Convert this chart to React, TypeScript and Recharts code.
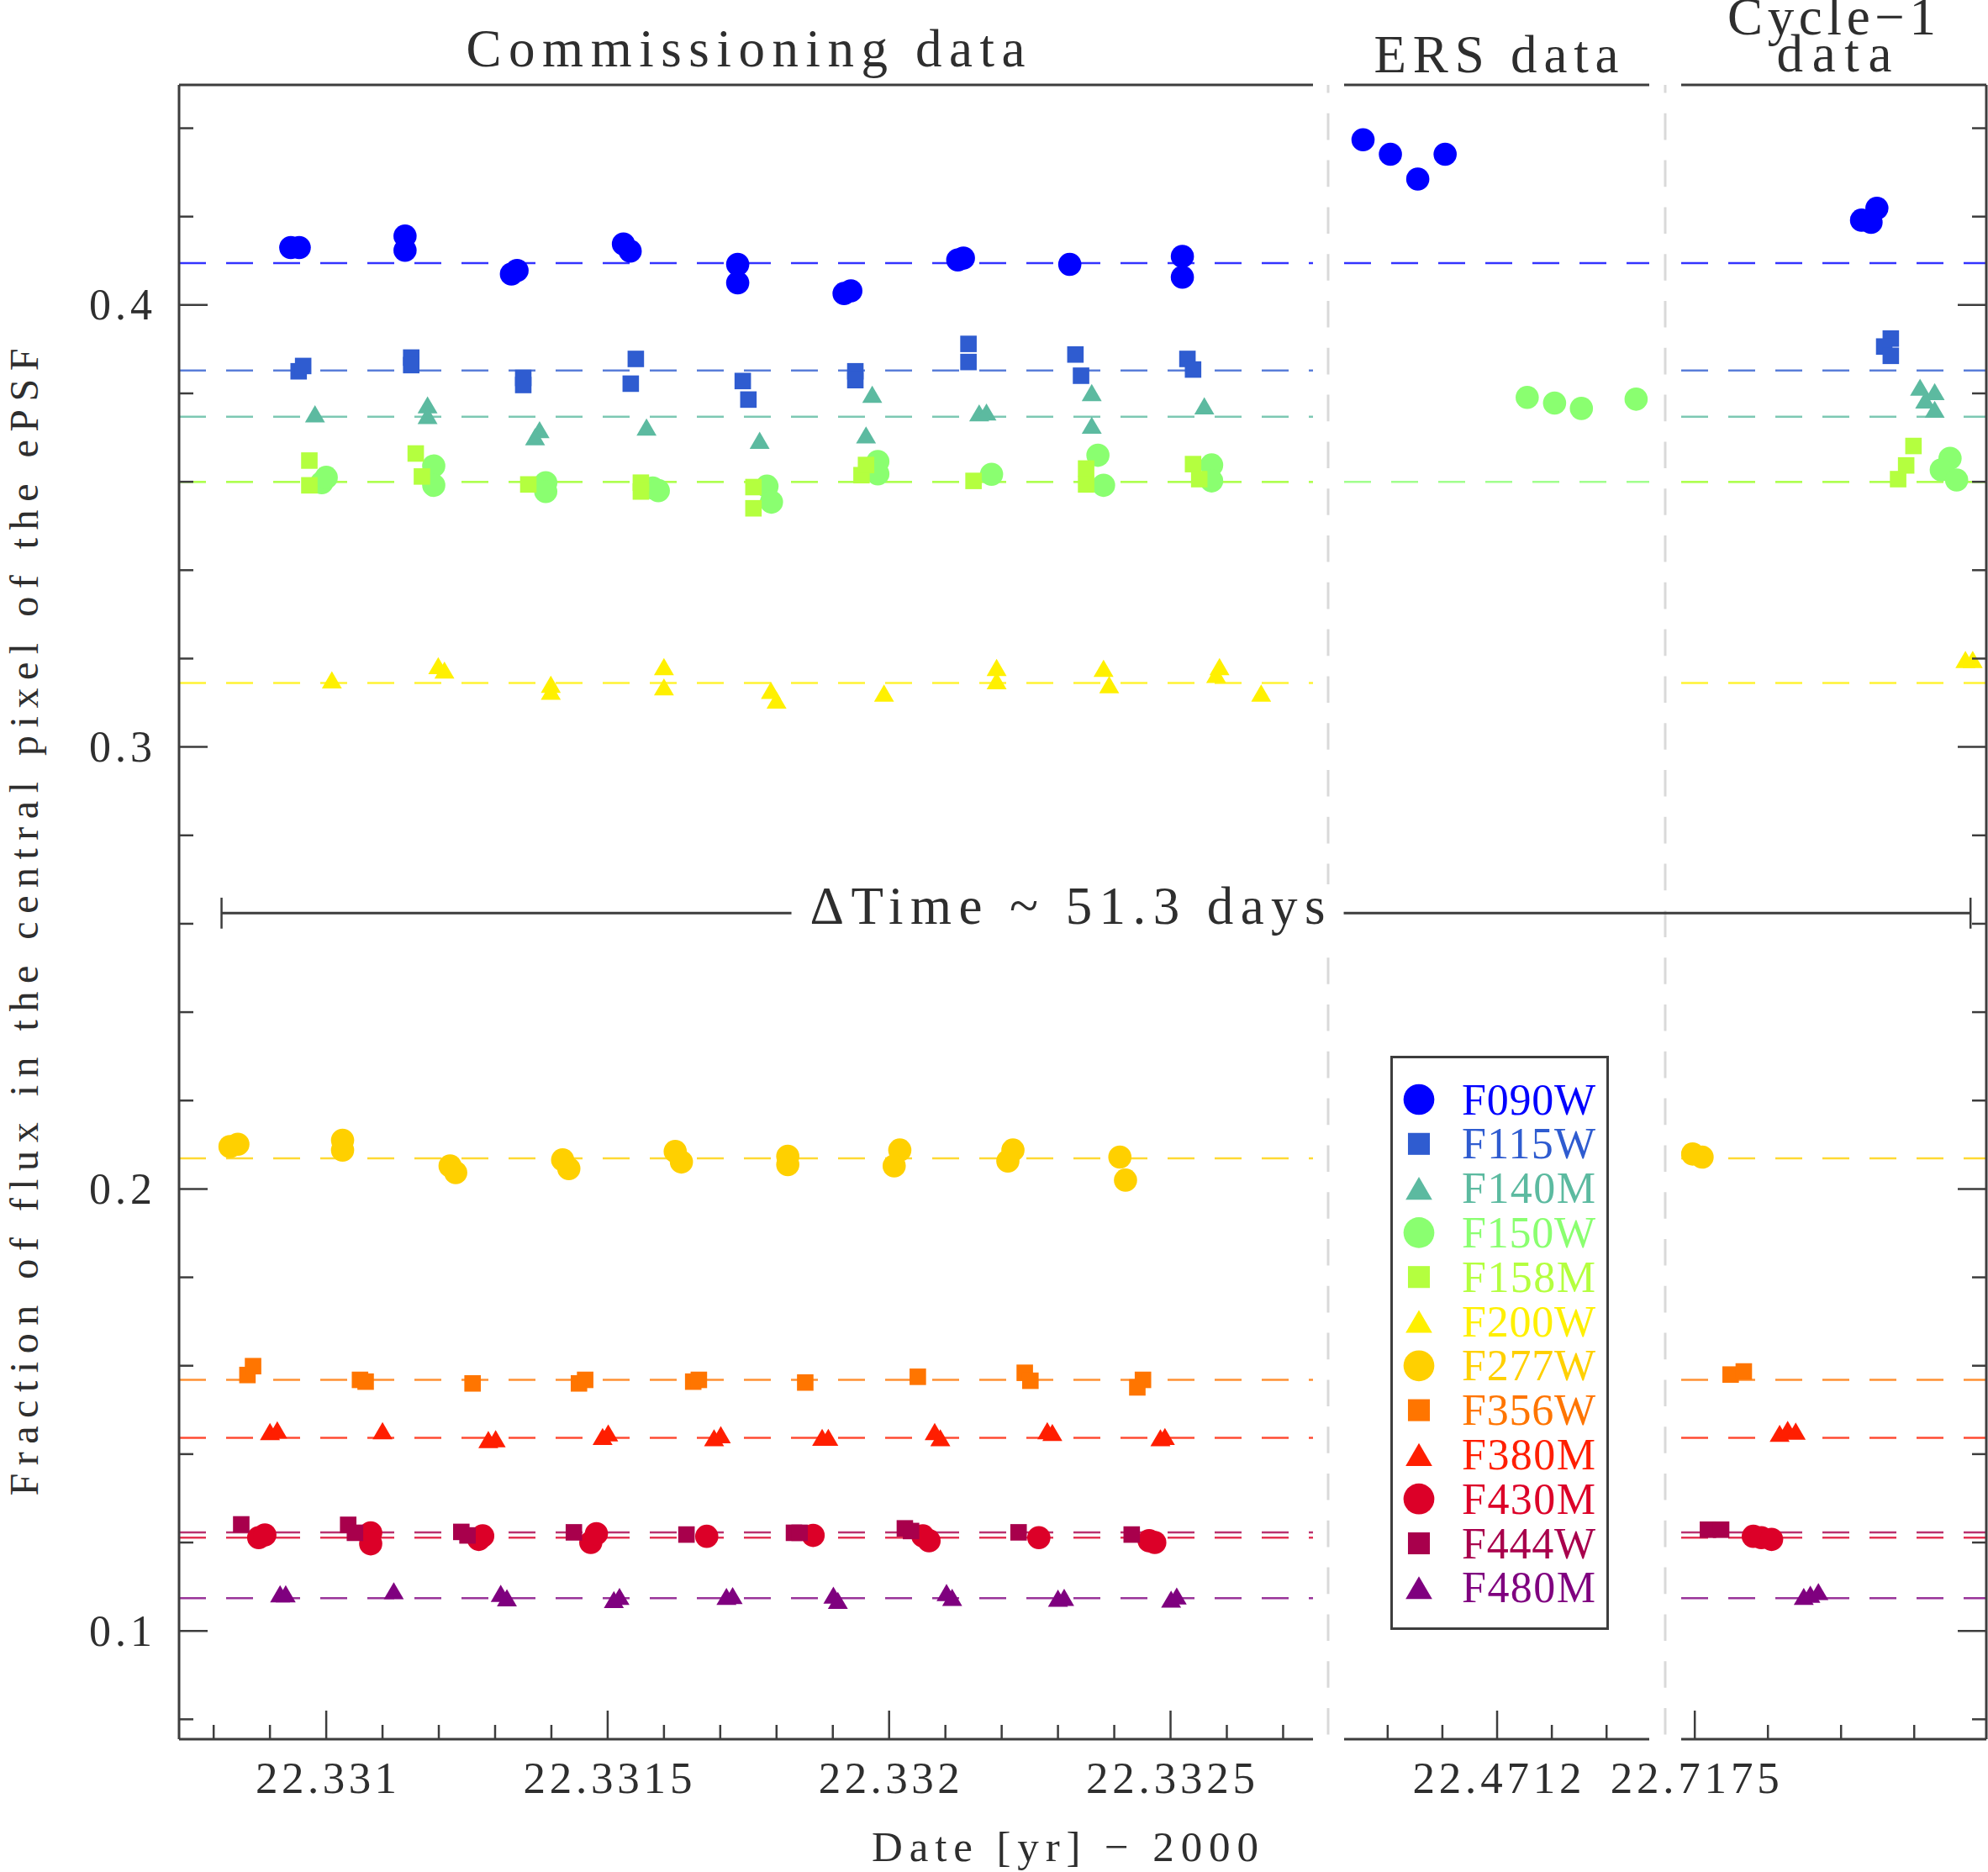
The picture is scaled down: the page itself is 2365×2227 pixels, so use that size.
import React from "react";
import { ScatterChart, Scatter, XAxis, YAxis, ReferenceLine, Legend } from "recharts";

type Pt = [number, number];

const W = 2365;
const H = 2227;
const PLOT_TOP = 101;
const PLOT_BOTTOM = 2069;
const FONT = "'Liberation Serif', 'DejaVu Serif', serif";
const INK = "#2e2e2e";
const AXIS = "#3d3d3d";

// filters, legend order
const FILTER_NAMES = ["F090W", "F115W", "F140M", "F150W", "F158M", "F200W", "F277W", "F356W", "F380M", "F430M", "F444W", "F480M"];
const FILTER_COLORS = ["#0000ff", "#2f5cd0", "#5cbaa0", "#8aff70", "#b4ff3f", "#fff000", "#ffd000", "#ff7500", "#ff1e00", "#dc0028", "#a8004c", "#7f007f"];
const FILTER_SHAPES = ["circle", "square", "triangle", "circle", "square", "triangle", "circle", "square", "triangle", "circle", "square", "triangle"];
// mean level of each filter (dashed lines)
const FILTER_LEVELS = [0.4095, 0.3852, 0.3747, 0.36, 0.36, 0.3145, 0.2069, 0.1568, 0.1437, 0.1211, 0.1223, 0.1074];

// [date (yr - 2000), fraction of flux in central pixel]
const F090W: Pt[] = [
  [22.330937, 0.413], [22.330952, 0.413], [22.33114, 0.4156], [22.33114, 0.4124],
  [22.331329, 0.407], [22.331339, 0.4078], [22.331528, 0.4138], [22.33154, 0.4122],
  [22.331731, 0.4092], [22.331731, 0.405], [22.33192, 0.4026], [22.331932, 0.4032],
  [22.332122, 0.4102], [22.332132, 0.4106], [22.332321, 0.4092], [22.332521, 0.411], [22.332521, 0.4063],
  [22.470955, 0.4374], [22.471005, 0.4341], [22.471055, 0.4285], [22.471105, 0.4341],
  [22.717728, 0.4192], [22.717741, 0.4187], [22.717749, 0.4219],
];
const F115W: Pt[] = [
  [22.330951, 0.385], [22.330959, 0.3862], [22.331151, 0.3881], [22.331151, 0.3864],
  [22.33135, 0.3835], [22.33135, 0.3819], [22.33155, 0.3878], [22.331541, 0.3822],
  [22.33174, 0.3828], [22.33175, 0.3786], [22.33194, 0.385], [22.33194, 0.383],
  [22.332141, 0.3912], [22.332141, 0.3871], [22.332331, 0.3888], [22.332341, 0.384],
  [22.33253, 0.3878], [22.33254, 0.3854],
  [22.717768, 0.3924], [22.717759, 0.3906], [22.717768, 0.3885],
];
const F140M: Pt[] = [
  [22.33098, 0.3754], [22.33118, 0.3774], [22.33118, 0.375], [22.331379, 0.3718], [22.331371, 0.3702],
  [22.331569, 0.3724], [22.33177, 0.3694], [22.33197, 0.3798], [22.331959, 0.3706],
  [22.33216, 0.3756], [22.332173, 0.3758], [22.33236, 0.3802], [22.33236, 0.3728], [22.33256, 0.3772],
  [22.717808, 0.3814], [22.717828, 0.3804], [22.717815, 0.3785], [22.717828, 0.3764],
];
const F150W: Pt[] = [
  [22.330992, 0.3598], [22.331, 0.361], [22.331191, 0.3636], [22.331191, 0.3592],
  [22.33139, 0.3598], [22.33139, 0.3578], [22.33158, 0.3586], [22.33159, 0.358],
  [22.331783, 0.359], [22.331791, 0.3554], [22.33198, 0.3646], [22.33198, 0.3618],
  [22.332182, 0.3617], [22.332371, 0.366], [22.332381, 0.3592], [22.332573, 0.3638], [22.332573, 0.3602],
  [22.471255, 0.3791], [22.471305, 0.3778], [22.471354, 0.3766], [22.471454, 0.3787],
  [22.717849, 0.3653], [22.717837, 0.3627], [22.717858, 0.3604],
];
const F158M: Pt[] = [
  [22.33097, 0.3648], [22.33097, 0.3592], [22.331159, 0.3664], [22.33117, 0.3612],
  [22.331359, 0.3594], [22.331559, 0.3598], [22.331559, 0.3578], [22.331759, 0.3588], [22.331759, 0.354],
  [22.331951, 0.3615], [22.331959, 0.3638], [22.33215, 0.3602], [22.33235, 0.363], [22.33235, 0.3594],
  [22.33254, 0.364], [22.332551, 0.3606],
  [22.717799, 0.3681], [22.717789, 0.3637], [22.717778, 0.3606],
];
const F200W: Pt[] = [
  [22.33101, 0.3152], [22.331199, 0.3184], [22.33121, 0.3174], [22.331399, 0.3142], [22.331399, 0.3126],
  [22.3316, 0.3182], [22.3316, 0.3136], [22.33179, 0.3128], [22.3318, 0.3106], [22.331991, 0.3122],
  [22.332191, 0.318], [22.332191, 0.315], [22.332381, 0.3178], [22.332391, 0.3141],
  [22.332587, 0.3182], [22.332581, 0.3164], [22.332661, 0.3122],
  [22.71787, 0.3198], [22.71788, 0.3198],
];
const F277W: Pt[] = [
  [22.330829, 0.2096], [22.330843, 0.2101], [22.331029, 0.211], [22.331029, 0.2088],
  [22.33122, 0.2052], [22.33123, 0.2037], [22.33142, 0.2066], [22.331431, 0.2046],
  [22.33162, 0.2085], [22.331631, 0.2061], [22.33182, 0.2074], [22.33182, 0.2055],
  [22.332019, 0.2088], [22.332009, 0.2052], [22.33222, 0.2088], [22.332211, 0.2063],
  [22.33241, 0.2072], [22.33242, 0.202],
  [22.717497, 0.2079], [22.71751, 0.2072],
];
const F356W: Pt[] = [
  [22.33086, 0.1579], [22.33087, 0.1599], [22.33106, 0.1568], [22.33107, 0.1564], [22.33126, 0.156],
  [22.331449, 0.156], [22.33146, 0.1568], [22.331652, 0.1564], [22.331662, 0.1568], [22.331851, 0.1562],
  [22.332051, 0.1575], [22.332241, 0.1584], [22.332251, 0.1566], [22.332451, 0.1568], [22.332441, 0.1551],
  [22.717549, 0.158], [22.717567, 0.1587],
];
const F380M: Pt[] = [
  [22.3309, 0.1451], [22.330913, 0.1455], [22.3311, 0.1453], [22.331288, 0.1433], [22.331301, 0.1435],
  [22.331491, 0.144], [22.331501, 0.1448], [22.331689, 0.1437], [22.331701, 0.1444],
  [22.331881, 0.1438], [22.331892, 0.1438], [22.332081, 0.1451], [22.332091, 0.1437],
  [22.332281, 0.1453], [22.33229, 0.1449], [22.332482, 0.1437], [22.33249, 0.144],
  [22.717616, 0.1447], [22.717627, 0.1456], [22.717638, 0.1452],
];
const F430M: Pt[] = [
  [22.33088, 0.1211], [22.330891, 0.1217], [22.331079, 0.1222], [22.331079, 0.1197],
  [22.331271, 0.1207], [22.331278, 0.1215], [22.33147, 0.12], [22.33148, 0.122],
  [22.331676, 0.1214], [22.331865, 0.1216], [22.33206, 0.1215], [22.332071, 0.1204],
  [22.332266, 0.1211], [22.332462, 0.1204], [22.332472, 0.12],
  [22.71758, 0.1214], [22.717591, 0.1211], [22.717605, 0.1207],
];
const F444W: Pt[] = [
  [22.330849, 0.1241], [22.331039, 0.124], [22.331051, 0.1222], [22.33124, 0.1224], [22.331251, 0.1216],
  [22.33144, 0.1223], [22.33164, 0.1218], [22.331831, 0.1222], [22.331841, 0.1222],
  [22.332028, 0.1232], [22.332039, 0.1226], [22.33223, 0.1223], [22.332431, 0.1218],
  [22.717518, 0.1229], [22.717536, 0.1229],
];
const F480M: Pt[] = [
  [22.330918, 0.1084], [22.330928, 0.1084], [22.33112, 0.1091], [22.33131, 0.1085], [22.331321, 0.1075],
  [22.331511, 0.1071], [22.331521, 0.1078], [22.331711, 0.1078], [22.331722, 0.108],
  [22.331901, 0.1081], [22.331909, 0.1069], [22.332102, 0.1087], [22.332112, 0.1076],
  [22.3323, 0.1074], [22.332311, 0.1076], [22.332501, 0.1072], [22.332511, 0.1079],
  [22.717649, 0.1078], [22.717658, 0.1083], [22.717669, 0.1089],
];
const FILTER_POINTS = [F090W, F115W, F140M, F150W, F158M, F200W, F277W, F356W, F380M, F430M, F444W, F480M];

// axis ticks
const COM_TICKS = [22.3308, 22.3309, 22.331, 22.3311, 22.3312, 22.3313, 22.3314, 22.3315, 22.3316, 22.3317,
  22.3318, 22.3319, 22.332, 22.3321, 22.3322, 22.3323, 22.3324, 22.3325, 22.3326, 22.3327];
const ERS_TICKS = [22.471, 22.4711, 22.4712, 22.4713, 22.4714];
const CYC_TICKS = [22.7175, 22.7176, 22.7177, 22.7178];
const X_LABELS: [number, string][] = [
  [22.331, "22.331"], [22.3315, "22.3315"], [22.332, "22.332"], [22.3325, "22.3325"],
  [22.4712, "22.4712"], [22.7175, "22.7175"],
];
const Y_TICKS = [0.08, 0.1, 0.12, 0.14, 0.16, 0.18, 0.2, 0.22, 0.24, 0.26, 0.28, 0.3, 0.32, 0.34, 0.36, 0.38, 0.4, 0.42, 0.44];
const Y_LABELS: [number, string][] = [[0.1, "0.1"], [0.2, "0.2"], [0.3, "0.3"], [0.4, "0.4"]];
const Y_DOMAIN: [number, number] = [0.0755, 0.4498];

// "Delta time" bar, in data units
const DT_Y = 0.2624;
const DT_START = 22.330814;
const DT_END = 22.717877;
const DT_GAP_L = 22.3318265;
const DT_GAP_R = 22.71702;

const PANELS = [
  { left: 213, right: 1562, domain: [22.3307385, 22.3327531], ticks: COM_TICKS, leftAxis: true, rightAxis: false },
  { left: 1599, right: 1962, domain: [22.4709204, 22.471478], ticks: ERS_TICKS, leftAxis: false, rightAxis: false },
  { left: 2000, right: 2363, domain: [22.7174814, 22.7178986], ticks: CYC_TICKS, leftAxis: false, rightAxis: true },
];

const findLabel = (list: [number, string][], v: number) => list.find((l) => Math.abs(l[0] - v) < 1e-7);

function XTick(props: any) {
  const { x, y, payload, side } = props;
  const lab = findLabel(X_LABELS, payload.value);
  const len = lab ? 34 : 17;
  const y2 = side === "top" ? y + len : y - len;
  return (
    <g>
      <line x1={x} x2={x} y1={y} y2={y2} stroke={AXIS} strokeWidth={2.5} />
      {side === "bottom" && lab && (
        <text x={x} y={y + 64} textAnchor="middle" fontFamily={FONT} fontSize={53} fill={INK}
          textLength={33 * lab[1].length - 30} lengthAdjust="spacing">
          {lab[1]}
        </text>
      )}
    </g>
  );
}

function YTick(props: any) {
  const { x, y, payload, side } = props;
  const lab = findLabel(Y_LABELS, payload.value);
  const len = lab ? 34 : 17;
  const x2 = side === "left" ? x + len : x - len;
  return (
    <g>
      <line x1={x} x2={x2} y1={y} y2={y} stroke={AXIS} strokeWidth={2.5} />
      {side === "left" && lab && (
        <text x={x - 32} y={y + 17.5} textAnchor="end" fontFamily={FONT} fontSize={52} fill={INK}
          textLength={75} lengthAdjust="spacing">
          {lab[1]}
        </text>
      )}
    </g>
  );
}

function Marker({ kind, cx, cy, color, k }: { kind: string; cx: number; cy: number; color: string; k: number }) {
  if (kind === "circle") return <circle cx={cx} cy={cy} r={13.8 * k} fill={color} />;
  if (kind === "square") {
    const s = 19.6 * k;
    return <rect x={cx - s / 2} y={cy - s / 2} width={s} height={s} fill={color} />;
  }
  const w = 23.8 * k;
  const h = 20.4 * k;
  return <polygon points={`${cx},${cy - h / 2} ${cx - w / 2},${cy + h / 2} ${cx + w / 2},${cy + h / 2}`} fill={color} />;
}

function LegendBox(props: any) {
  const entries = [...(props.payload || [])].sort(
    (a: any, b: any) => FILTER_NAMES.indexOf(a.value) - FILTER_NAMES.indexOf(b.value)
  );
  return (
    <svg width={260} height={683} style={{ display: "block" }}>
      <rect x={1.5} y={1.5} width={257} height={680} fill="#fff" stroke={AXIS} strokeWidth={3} />
      {entries.map((e: any, i: number) => {
        const idx = FILTER_NAMES.indexOf(e.value);
        const cy = 52 + i * 52.8;
        return (
          <g key={e.value}>
            <Marker kind={FILTER_SHAPES[idx]} cx={34} cy={cy} color={FILTER_COLORS[idx]} k={1.33} />
            <text x={85} y={cy + 17.5} fontFamily={FONT} fontSize={52} fill={FILTER_COLORS[idx]}
              textLength={159} lengthAdjust="spacing">
              {e.value}
            </text>
          </g>
        );
      })}
    </svg>
  );
}

const axisLine = { stroke: AXIS, strokeWidth: 3 };
const annot = { stroke: AXIS, strokeWidth: 3, ifOverflow: "visible" as const };

function Panel({ p, index }: { p: (typeof PANELS)[number]; index: number }) {
  const series = FILTER_NAMES.map((name, i) => ({
    name,
    color: FILTER_COLORS[i],
    kind: FILTER_SHAPES[i],
    level: FILTER_LEVELS[i],
    data: FILTER_POINTS[i]
      .filter(([x]) => x >= p.domain[0] && x <= p.domain[1])
      .map(([x, y]) => ({ x, y })),
  }));
  return (
    <div style={{ position: "absolute", left: 0, top: 0 }}>
      <ScatterChart
        width={W}
        height={H}
        margin={{ top: PLOT_TOP - 1, bottom: H - PLOT_BOTTOM - 1, left: p.left - 1, right: W - p.right - 1 }}
      >
        <XAxis xAxisId={0} type="number" dataKey="x" domain={p.domain} allowDataOverflow ticks={p.ticks}
          interval={0} height={1} tickSize={0} tickMargin={0} tickLine={false} axisLine={axisLine}
          tick={<XTick side="bottom" />} />
        <XAxis xAxisId="t" orientation="top" type="number" domain={p.domain} allowDataOverflow ticks={p.ticks}
          interval={0} height={1} tickSize={0} tickMargin={0} tickLine={false} axisLine={axisLine}
          tick={<XTick side="top" />} />
        <YAxis yAxisId={0} type="number" dataKey="y" domain={Y_DOMAIN} allowDataOverflow ticks={Y_TICKS}
          interval={0} width={1} tickSize={0} tickMargin={0} tickLine={false}
          axisLine={p.leftAxis ? axisLine : false} tick={p.leftAxis ? <YTick side="left" /> : false} />
        <YAxis yAxisId="r" orientation="right" type="number" domain={Y_DOMAIN} allowDataOverflow ticks={Y_TICKS}
          interval={0} width={1} tickSize={0} tickMargin={0} tickLine={false}
          axisLine={p.rightAxis ? axisLine : false} tick={p.rightAxis ? <YTick side="right" /> : false} />

        {series
          .filter((s) => s.data.length > 0)
          .map((s) => (
            <ReferenceLine key={"lvl" + s.name} y={s.level} stroke={s.color} strokeOpacity={0.8}
              strokeWidth={2.5} strokeDasharray="32 24" />
          ))}

        {index === 0 && (
          <ReferenceLine {...annot} segment={[{ x: DT_START, y: DT_Y }, { x: DT_GAP_L, y: DT_Y }]} />
        )}
        {index === 0 && (
          <ReferenceLine {...annot} strokeWidth={2.5}
            segment={[{ x: DT_START, y: DT_Y - 0.0035 }, { x: DT_START, y: DT_Y + 0.0035 }]} />
        )}
        {index === 2 && (
          <ReferenceLine {...annot} segment={[{ x: DT_GAP_R, y: DT_Y }, { x: DT_END, y: DT_Y }]} />
        )}
        {index === 2 && (
          <ReferenceLine {...annot} strokeWidth={2.5}
            segment={[{ x: DT_END, y: DT_Y - 0.0035 }, { x: DT_END, y: DT_Y + 0.0035 }]} />
        )}

        {series.map((s) => (
          <Scatter
            key={s.name}
            name={s.name}
            data={s.data}
            fill={s.color}
            isAnimationActive={false}
            shape={(sp: any) =>
              sp.cx == null ? <g /> : <Marker kind={s.kind} cx={sp.cx} cy={sp.cy} color={s.color} k={1} />
            }
          />
        ))}

        {index === 0 && (
          <Legend layout="vertical" align="center" verticalAlign="middle" content={<LegendBox />}
            wrapperStyle={{ left: 1654, top: 1256, width: 260, height: 683 }} />
        )}
      </ScatterChart>
    </div>
  );
}

function Overlay() {
  const title = { fontFamily: FONT, fontSize: 63, fill: INK, textAnchor: "middle" as const, lengthAdjust: "spacing" };
  return (
    <svg width={W} height={H} style={{ position: "absolute", left: 0, top: 0 }}>
      {[1580, 1981].map((x) => (
        <line key={x} x1={x} x2={x} y1={PLOT_TOP} y2={PLOT_BOTTOM} stroke="#d9d9d9" strokeWidth={3}
          strokeDasharray="31.6 24.2" strokeDashoffset={22} />
      ))}
      <text x={887} y={79} {...title} textLength={665}>Commissioning data</text>
      <text x={1780} y={86} {...title} textLength={291}>ERS data</text>
      <text x={2179} y={41} {...title} textLength={248}>Cycle−1</text>
      <text x={2182} y={85} {...title} textLength={137}>data</text>
      <rect x={950} y={1052} width={640} height={68} fill="#fff" />
      <text x={1270} y={1099} {...title} textLength={613}>ΔTime ~ 51.3 days</text>
      <text x={1267} y={2214} fontFamily={FONT} fontSize={51} fill={INK} textAnchor="middle"
        textLength={460} lengthAdjust="spacing">
        Date [yr] − 2000
      </text>
      <text x={45} y={1097} transform="rotate(-90 45 1097)" fontFamily={FONT} fontSize={48} fill={INK}
        textAnchor="middle" textLength={1365} lengthAdjust="spacing">
        Fraction of flux in the central pixel of the ePSF
      </text>
    </svg>
  );
}

export default function App() {
  return (
    <div style={{ position: "absolute", left: 0, top: 0, width: W, height: H, background: "#fff", overflow: "hidden" }}>
      <Overlay />
      {PANELS.map((p, i) => (
        <Panel key={i} p={p} index={i} />
      ))}
    </div>
  );
}
